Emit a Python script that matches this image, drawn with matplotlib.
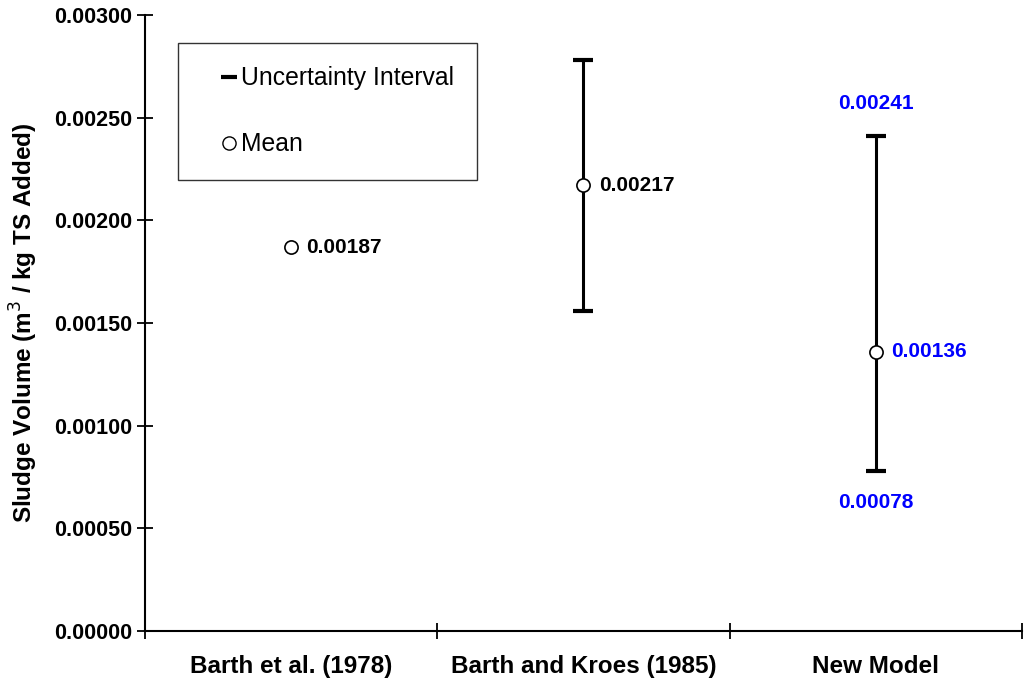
import numpy as np
import matplotlib
matplotlib.use('Agg')
import matplotlib.pyplot as plt
from matplotlib.lines import Line2D
from matplotlib.ticker import FormatStrFormatter

plt.rcParams['font.family'] = 'Liberation Sans'

categories = ["Barth et al. (1978)", "Barth and Kroes (1985)", "New Model"]
means = [0.00187, 0.00217, 0.00136]
lower = [np.nan, 0.00156, 0.00078]
upper = [np.nan, 0.00278, 0.00241]
label_colors = ["black", "black", "#0000FF"]

fig = plt.figure(figsize=(10.26, 6.81), dpi=100)
ax = fig.add_axes([0.1413, 0.0734, 0.8547, 0.9046])

x = np.arange(len(categories)) + 0.5
for i in range(len(categories)):
    if not np.isnan(lower[i]):
        ax.errorbar(x[i], means[i],
                    yerr=[[means[i] - lower[i]], [upper[i] - means[i]]],
                    fmt='none', ecolor='black', elinewidth=2.2, capsize=7, capthick=3, zorder=2)
ax.plot(x, means, 'o', mfc='white', mec='black', mew=1.2, ms=9.5, ls='none', zorder=3)

for i in range(len(categories)):
    ax.annotate(f"{means[i]:.5f}", (x[i], means[i]), xytext=(11, 0), textcoords='offset points',
                ha='left', va='center', fontsize=15, fontweight='bold', color=label_colors[i])
# blue range labels for the new model
ax.annotate(f"{upper[2]:.5f}", (x[2], upper[2]), xytext=(0, 17), textcoords='offset points',
            ha='center', va='bottom', fontsize=15, fontweight='bold', color='#0000FF')
ax.annotate(f"{lower[2]:.5f}", (x[2], lower[2]), xytext=(0, -16), textcoords='offset points',
            ha='center', va='top', fontsize=15, fontweight='bold', color='#0000FF')

ax.set_xlim(0, 3)
ax.set_ylim(0, 0.003)
ax.set_yticks(np.arange(0, 0.00301, 0.0005))
ax.yaxis.set_major_formatter(FormatStrFormatter('%.5f'))
ax.set_xticks([0, 1, 2, 3])
ax.set_xticklabels([])
ax.set_xticks(x, minor=True)
ax.set_xticklabels(categories, minor=True)
ax.tick_params(axis='x', which='minor', length=0, pad=17, labelsize=17.5)
ax.tick_params(axis='both', which='major', direction='inout', length=11, width=1.3, labelsize=15.5)
for lab in ax.get_xticklabels(minor=True) + ax.get_yticklabels():
    lab.set_fontweight('bold')

ax.spines['top'].set_visible(False)
ax.spines['right'].set_visible(False)
ax.spines['left'].set_linewidth(1.5)
ax.spines['bottom'].set_linewidth(1.5)

ax.set_ylabel("Sludge Volume (m$^3$ / kg TS Added)", fontsize=17.5, fontweight='bold')
ax.yaxis.set_label_coords(-0.12, 0.5)

handles = [Line2D([], [], marker='_', color='black', ls='none', ms=11, mew=3),
           Line2D([], [], marker='o', mfc='white', mec='black', ls='none', ms=9.5)]
ax.legend(handles, ["Uncertainty Interval", "Mean"], loc='upper left',
          bbox_to_anchor=(0.0376, 0.955), fontsize=17.8, frameon=True, fancybox=False,
          edgecolor='black', handlelength=2.2, handletextpad=-0.6, labelspacing=1.7,
          borderpad=0.95, borderaxespad=0)
ax.get_legend().get_frame().set_linewidth(1.0)

fig.savefig("out.png", dpi=100)
